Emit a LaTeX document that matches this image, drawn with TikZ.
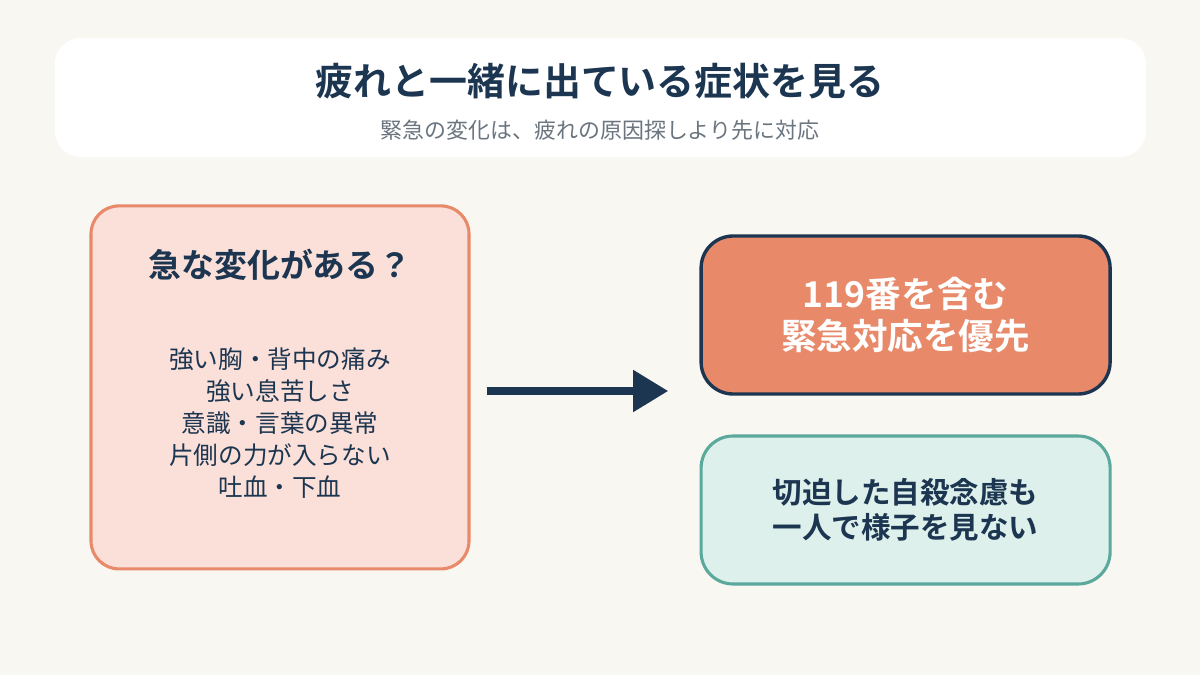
\documentclass[tikz,border=0pt]{standalone}
\usepackage{fontspec}
\setmainfont{Noto Sans CJK JP}[BoldFont={Noto Sans CJK JP Bold}]
\usepackage{xcolor}
\definecolor{sympage}{HTML}{F8F7F2}
\definecolor{symnavy}{HTML}{1C3550}
\definecolor{symgray}{HTML}{6B7580}
\definecolor{symcoral}{HTML}{E8896A}
\definecolor{sympeach}{HTML}{FAE0D8}
\definecolor{symteal}{HTML}{5BA89C}
\definecolor{symmint}{HTML}{DDF0EB}
\usepackage{tikz}
\usetikzlibrary{arrows.meta,positioning}
\tikzset{
  headband/.style={
    fill=white, rounded corners=0.65cm,
    minimum width=27.28cm, minimum height=2.975cm
  },
  checkbox/.style={
    draw=symcoral, fill=sympeach, line width=2.2pt, rounded corners=0.7cm,
    minimum width=9.45cm, minimum height=9.075cm
  },
  actbox/.style={
    draw=#1, line width=2.4pt, rounded corners=0.8cm,
    minimum width=10.225cm, align=center, inner sep=0pt
  },
  flowarr/.style={-{Triangle[length=0.875cm,width=1cm]}, draw=symnavy,
                  line width=5.6pt}
}

\begin{document}
\begin{tikzpicture}
  \fill[sympage] (0,0) rectangle (30,16.875);

  % header
  \node[headband] (head) at (15.01,14.44) {};
  \node[font=\fontsize{27pt}{32pt}\selectfont\bfseries, text=symnavy]
    (title) at (15.0,14.85) {疲れと一緒に出ている症状を見る};
  \node[font=\fontsize{15.6pt}{19pt}\selectfont, text=symgray]
    (subtitle) at (15.0,13.62) {緊急の変化は、疲れの原因探しより先に対応};

  % left: check
  \node[checkbox] (sudden) at (7.0,7.19) {};
  \node[font=\fontsize{23.4pt}{28pt}\selectfont\bfseries, text=symnavy]
    (question) at (7.0,10.25) {急な変化がある？};
  \node[font=\fontsize{17.5pt}{22.7pt}\selectfont, text=symnavy, align=center]
    (signs) at (7.0,6.3)
    {強い胸・背中の痛み\\強い息苦しさ\\意識・言葉の異常\\片側の力が入らない\\吐血・下血};

  % right: actions
  \node[actbox=symnavy, fill=symcoral, minimum height=3.95cm,
        text=white, font=\fontsize{25.3pt}{30.5pt}\selectfont\bfseries]
    (emerg) at (22.64,9.0) {119番を含む\\緊急対応を優先};
  \node[actbox=symteal, fill=symmint, minimum height=3.7cm, line width=2.2pt,
        text=symnavy, font=\fontsize{21pt}{24.8pt}\selectfont\bfseries]
    (watch) at (22.64,4.125) {切迫した自殺念慮も\\一人で様子を見ない};

  \draw[flowarr, shorten <=0.4cm, shorten >=0.78cm]
    ([yshift=-0.09cm]sudden.east) -- ([yshift=-0.09cm]sudden.east -| emerg.west);
\end{tikzpicture}
\end{document}
